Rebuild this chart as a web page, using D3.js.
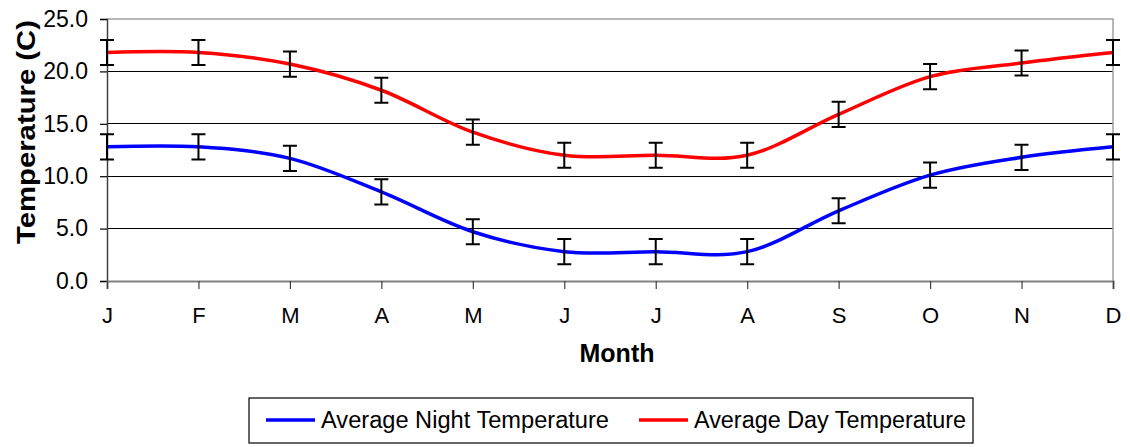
<!DOCTYPE html>
<html>
<head>
<meta charset="utf-8">
<script src="https://cdn.jsdelivr.net/npm/d3@7"></script>
<style>
  html, body { margin: 0; padding: 0; background: #fff; }
  svg { display: block; font-family: "Liberation Sans", Arial, sans-serif; }
</style>
</head>
<body>
<svg id="chart" width="1130" height="447"></svg>
<script>
// Monthly mean temperatures (°C) with their error range
const months = ["J", "F", "M", "A", "M", "J", "J", "A", "S", "O", "N", "D"];
const nightTemps = [12.8, 12.8, 11.7, 8.5, 4.7, 2.8, 2.8, 2.8, 6.7, 10.1, 11.8, 12.8];
const dayTemps = [21.8, 21.8, 20.7, 18.2, 14.2, 12.0, 12.0, 12.0, 15.9, 19.5, 20.8, 21.8];
const errorAmount = 1.2;
const yTicks = [0, 5, 10, 15, 20, 25];
const seriesNames = ["Average Night Temperature", "Average Day Temperature"];
const seriesColors = ["#0000ff", "#ff0000"];

const svg = d3.select("#chart");
const plot = { left: 107, right: 1113, top: 19, bottom: 281 };

const x = d3.scalePoint()
  .domain(d3.range(months.length))
  .range([plot.left, plot.right]);
const y = d3.scaleLinear()
  .domain([0, 25])
  .range([plot.bottom, plot.top]);

// Horizontal gridlines
svg.append("g")
  .selectAll("line")
  .data(yTicks.filter(t => t > 0 && t < 25))
  .join("line")
  .attr("x1", plot.left).attr("x2", plot.right)
  .attr("y1", d => y(d)).attr("y2", d => y(d))
  .attr("stroke", "#000").attr("stroke-width", 1.2)
  .attr("shape-rendering", "crispEdges");

// Plot frame: light top and right edges
svg.append("path")
  .attr("d", `M${plot.left},${y(25)}H${plot.right}V${plot.bottom}`)
  .attr("fill", "none")
  .attr("stroke", "#a0a0a0")
  .attr("stroke-width", 1.5);

// Y axis
const yAxis = svg.append("g")
  .attr("transform", `translate(${plot.left},0)`)
  .call(d3.axisLeft(y).tickValues(yTicks).tickFormat(d3.format(".1f")).tickSize(7).tickPadding(12));
yAxis.select(".domain").attr("stroke", "#404040").attr("stroke-width", 1.5);
yAxis.selectAll(".tick line").attr("stroke", "#000").attr("stroke-width", 1.2);
yAxis.selectAll(".tick text")
  .attr("font-size", 23)
  .attr("font-family", "Liberation Sans, Arial, sans-serif")
  .attr("fill", "#000");

// X axis
const xAxis = svg.append("g")
  .attr("transform", `translate(0,${plot.bottom})`)
  .call(d3.axisBottom(x).tickFormat(i => months[i]).tickSize(8).tickPadding(18));
xAxis.select(".domain").attr("stroke", "#808080").attr("stroke-width", 2);
xAxis.selectAll(".tick line").attr("stroke", "#404040").attr("stroke-width", 1.2);
xAxis.selectAll(".tick text")
  .attr("font-size", 22)
  .attr("font-family", "Liberation Sans, Arial, sans-serif")
  .attr("fill", "#000");

// Axis titles
svg.append("text")
  .attr("x", 617).attr("y", 362)
  .attr("text-anchor", "middle")
  .attr("font-size", 25).attr("font-weight", "bold")
  .text("Month");

svg.append("text")
  .attr("transform", "translate(35,132) rotate(-90)")
  .attr("text-anchor", "middle")
  .attr("font-size", 25).attr("font-weight", "bold")
  .attr("textLength", 224)
  .attr("lengthAdjust", "spacingAndGlyphs")
  .text("Temperature (C)");

// Smoothed series lines
const line = d3.line()
  .x((d, i) => x(i))
  .y(d => y(d))
  .curve(d3.curveCardinal.tension(0));

[nightTemps, dayTemps].forEach((series, s) => {
  svg.append("path")
    .datum(series)
    .attr("d", line)
    .attr("fill", "none")
    .attr("stroke", seriesColors[s])
    .attr("stroke-width", 3.5)
    .attr("stroke-linejoin", "round");
});

// Error bars
const capHalf = 7;
[nightTemps, dayTemps].forEach(series => {
  const g = svg.append("g")
    .attr("stroke", "#000")
    .attr("stroke-width", 2)
    .attr("fill", "none");
  g.selectAll("path")
    .data(series)
    .join("path")
    .attr("d", (d, i) => {
      const cx = x(i), y0 = y(d - errorAmount), y1 = y(d + errorAmount);
      return `M${cx},${y0}V${y1}M${cx - capHalf},${y0}H${cx + capHalf}M${cx - capHalf},${y1}H${cx + capHalf}`;
    });
});

// Legend
const legend = svg.append("g");
legend.append("rect")
  .attr("x", 249).attr("y", 398)
  .attr("width", 724).attr("height", 45)
  .attr("fill", "#fff")
  .attr("stroke", "#000").attr("stroke-width", 1.2);

const legendItems = [
  { x: 266, name: seriesNames[0], color: seriesColors[0], width: 288 },
  { x: 639, name: seriesNames[1], color: seriesColors[1], width: 272 }
];
legendItems.forEach(item => {
  legend.append("line")
    .attr("x1", item.x).attr("x2", item.x + 49)
    .attr("y1", 420).attr("y2", 420)
    .attr("stroke", item.color).attr("stroke-width", 3.5);
  legend.append("text")
    .attr("x", item.x + 55).attr("y", 428)
    .attr("font-size", 23)
    .attr("textLength", item.width)
    .attr("lengthAdjust", "spacingAndGlyphs")
    .text(item.name);
});
</script>
</body>
</html>
